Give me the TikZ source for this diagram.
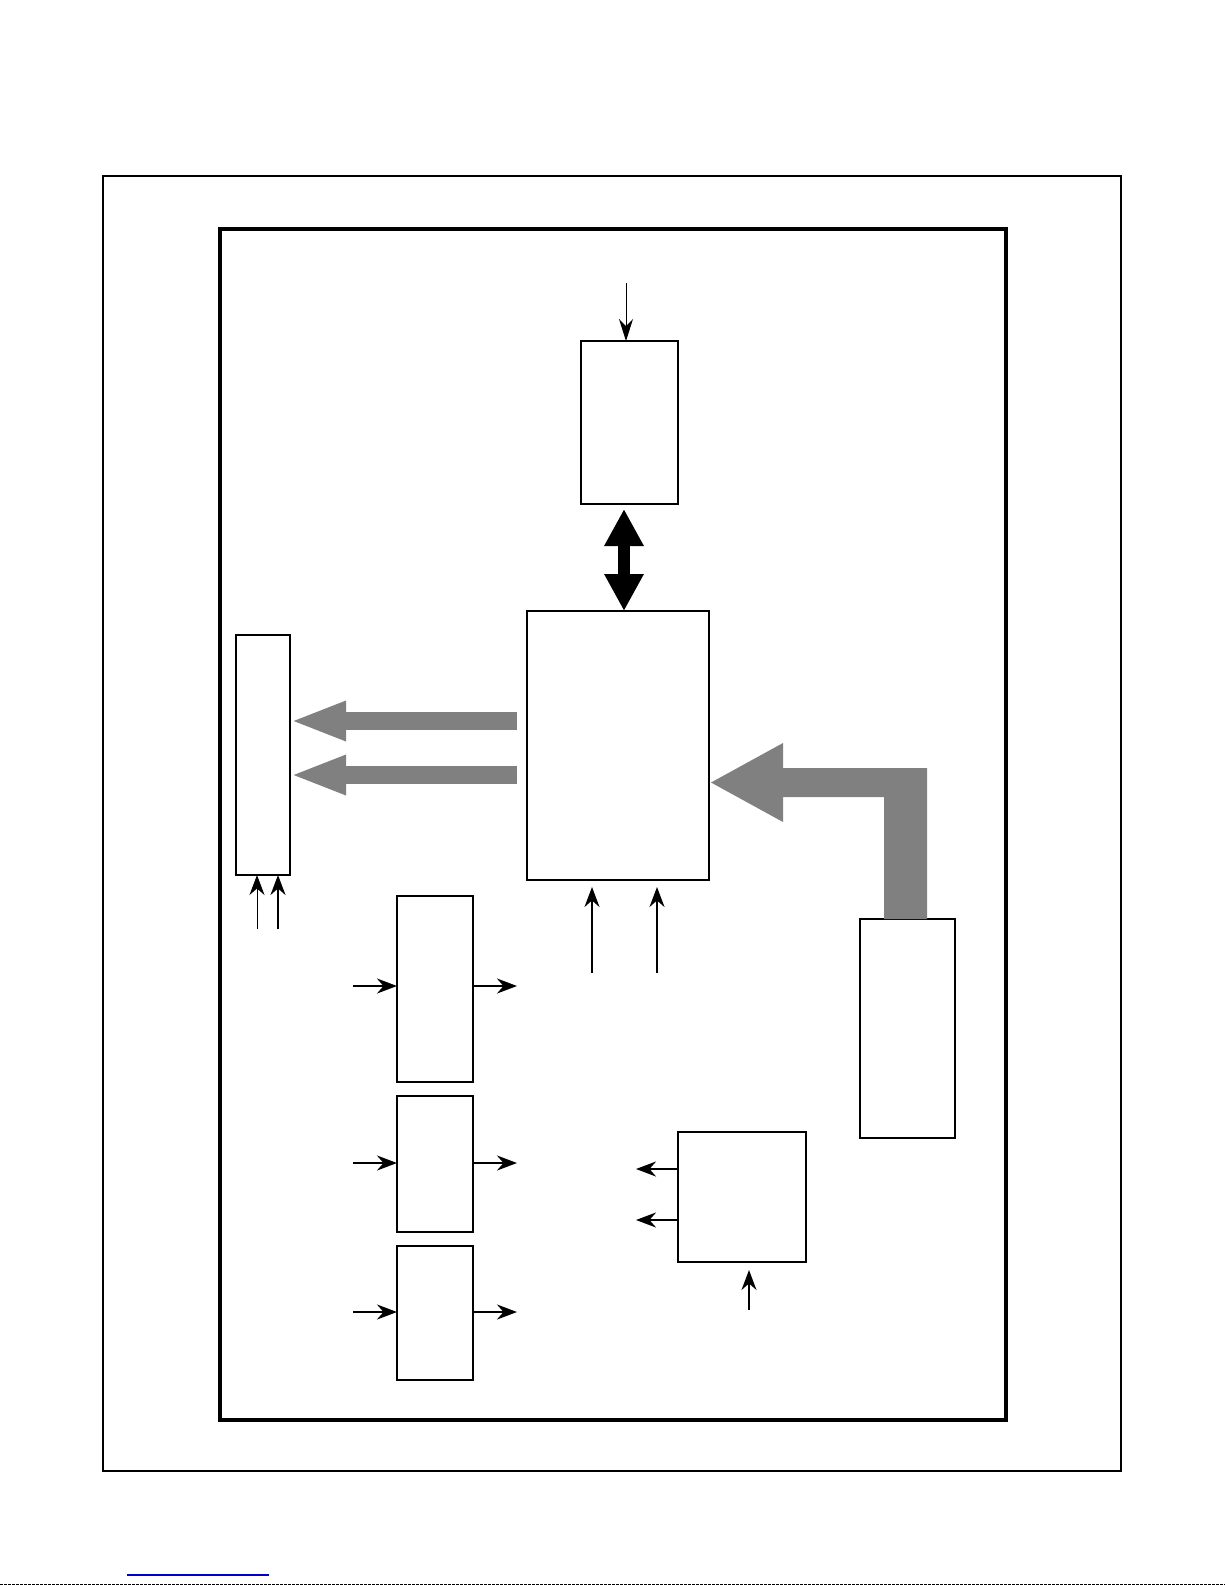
\documentclass[tikz,border=0pt]{standalone}
\usetikzlibrary{positioning, arrows.meta, calc}
\definecolor{bgrey}{RGB}{128,128,128}
\definecolor{lblue}{RGB}{0,0,204}
\tikzset{
    blk/.style={draw, line width=1.2pt, rectangle, inner sep=0pt, outer sep=0pt},
    sig/.style={line width=1.1pt, -{Stealth[length=10pt,width=7.5pt]}},
    fatbus/.style={line width=9pt, draw=bgrey, -{Triangle[length=28pt,width=18pt]}},
}

\begin{document}
\begin{tikzpicture}[x=0.5pt, y=-0.5pt]
        \useasboundingbox (0,0) rectangle (1225,1585);

        % page frames
        \draw[line width=0.75pt] (103,176) rectangle (1121,1471);
        \draw[line width=2pt] (219.5,229) rectangle (1006,1420);

        % blocks
        \node[blk, line width=1pt, minimum width=48.5pt, minimum height=81.5pt] (mem) at (629.5,422.5) {};
        \node[blk, minimum width=91pt, minimum height=134.5pt] (cpu) at (618,745.5) {};
        \node[blk, minimum width=27pt, minimum height=120pt] (port) at (263,755) {};
        \node[blk, minimum width=47.5pt, minimum height=109.5pt] (supply) at (907.5,1028.5) {};
        \node[blk, minimum width=38pt, minimum height=93pt] (drvA) at (435,989) {};
        \node[blk, minimum width=38pt, minimum height=68pt] (drvB) at (435,1164) {};
        \node[blk, minimum width=38pt, minimum height=67pt] (drvC) at (435,1313) {};
        \node[blk, minimum width=64pt, minimum height=65pt] (osc) at (742,1197) {};

        % free ends
        \coordinate (memin) at (626,283);
        \coordinate (dbus) at (624,509);
        \coordinate (busA) at (517,721);
        \coordinate (busB) at (517,775);
        \coordinate (bend) at (905.5,782.5);
        \coordinate (oscin) at (749,1310);

        % memory link
        \draw[line width=0.5pt, -{Stealth[length=11pt,width=7pt]}] (memin) -- (memin |- mem.north);
        \draw[line width=6pt, {Triangle[length=18.5pt,width=18.5pt]}-{Triangle[length=18.5pt,width=18.5pt]}]
            (dbus) -- (dbus |- cpu.north);

        % grey buses
        \draw[fatbus] (busA) -- (busA -| port.east);
        \draw[fatbus] (busB) -- (busB -| port.east);
        \fill[bgrey] ($(cpu.east |- bend)+(2,0)$) -- ++(72,-39.5) -- ++(0,25) -- ++(144,0)
            -- (927,0 |- supply.north) -- (884,0 |- supply.north) -- (884,797) -- ++(-101,0) -- ++(0,25) -- cycle;

        % port inputs
        \foreach \x/\w in {257/0.5pt, 278/1.1pt}
        {
            \coordinate (pin\x) at (\x,929);
            \draw[sig, line width=\w] (pin\x) -- (pin\x |- port.south);
        }
        % cpu inputs
        \foreach \x in {592,657}
        {
            \coordinate (cin\x) at (\x,973);
            \draw[sig, shorten >=3.5pt] (cin\x) -- (cin\x |- cpu.south);
        }
        % drivers
        \foreach \b/\y in {drvA/986, drvB/1163, drvC/1312}
        {
            \coordinate (\b in) at (353,\y);
            \coordinate (\b out) at (517,\y);
            \draw[sig] (\b in) -- (\b in -| \b.west);
            \draw[sig] (\b out -| \b.east) -- (\b out);
        }
        % oscillator
        \foreach \y in {1169,1220}
        {
            \coordinate (oout\y) at (636,\y);
            \draw[sig] (oout\y -| osc.west) -- (oout\y);
        }
        \draw[sig, line width=0.8pt, shorten >=4pt] (oscin) -- (oscin |- osc.south);

        % page edge
        \draw[lblue, line width=0.6pt] (127,1575) -- (269,1575);
        \draw[line width=0.6pt, dash pattern=on 1.5pt off 0.5pt] (0,1584.5) -- (1225,1584.5);
\end{tikzpicture}
\end{document}
